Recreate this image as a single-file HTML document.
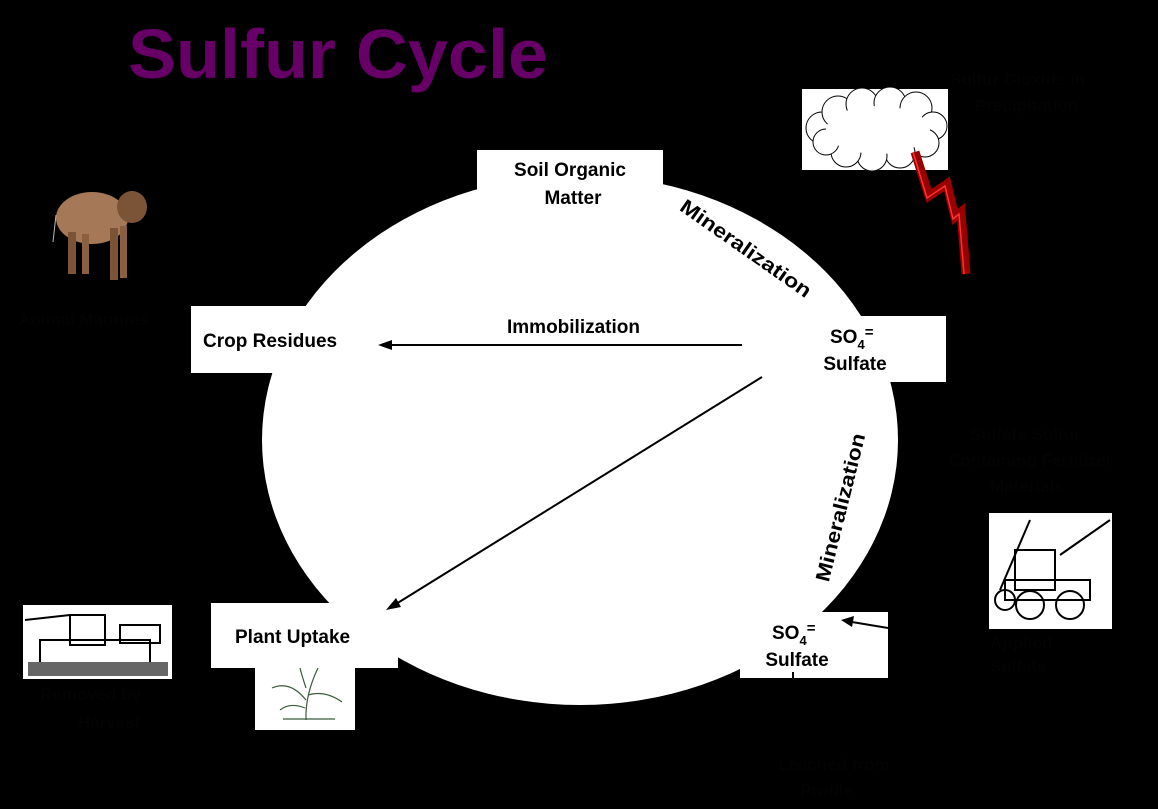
<!DOCTYPE html>
<html><head><meta charset="utf-8"><style>
html,body{margin:0;padding:0;background:#000;}
svg{display:block;}
text{font-family:"Liberation Sans",Arial,sans-serif;font-weight:bold;}
</style></head><body>
<svg width="1158" height="809" viewBox="0 0 1158 809" xmlns="http://www.w3.org/2000/svg">
<rect width="1158" height="809" fill="#000"/>
<text x="128" y="78" font-size="70" fill="#660066" textLength="420" lengthAdjust="spacingAndGlyphs">Sulfur Cycle</text>
<ellipse cx="580" cy="440" rx="318" ry="265" fill="#fff"/>
<!-- boxes -->
<rect x="477" y="150" width="186" height="62" fill="#fff"/>
<text x="570" y="176" font-size="19" text-anchor="middle" fill="#000">Soil Organic</text>
<text x="573" y="204" font-size="19" text-anchor="middle" fill="#000">Matter</text>
<rect x="191" y="306" width="189" height="67" fill="#fff"/>
<text x="203" y="347" font-size="19" fill="#000">Crop Residues</text>
<rect x="785" y="316" width="161" height="66" fill="#fff"/>
<text x="830" y="343" font-size="19" fill="#000">SO<tspan font-size="13" dy="6">4</tspan><tspan font-size="15" dy="-12">=</tspan></text>
<text x="855" y="370" font-size="19" text-anchor="middle" fill="#000">Sulfate</text>
<rect x="211" y="603" width="187" height="65" fill="#fff"/>
<text x="235" y="643" font-size="19" fill="#000">Plant Uptake</text>
<rect x="740" y="612" width="148" height="66" fill="#fff"/>
<text x="772" y="639" font-size="19" fill="#000">SO<tspan font-size="13" dy="6">4</tspan><tspan font-size="15" dy="-12">=</tspan></text>
<text x="797" y="666" font-size="19" text-anchor="middle" fill="#000">Sulfate</text>
<line x1="793" y1="672" x2="793" y2="685" stroke="#000" stroke-width="2"/>
<!-- labels -->
<text x="507" y="333" font-size="19" fill="#000">Immobilization</text>
<text transform="translate(742,254) rotate(35)" font-size="20" text-anchor="middle" fill="#000" textLength="155" lengthAdjust="spacingAndGlyphs">Mineralization</text>
<text transform="translate(847,509) rotate(-76)" font-size="20" text-anchor="middle" fill="#000" textLength="152" lengthAdjust="spacingAndGlyphs">Mineralization</text>
<!-- arrows -->
<line x1="742" y1="345" x2="390" y2="345" stroke="#000" stroke-width="2"/>
<polygon points="378,345 392,340 392,350" fill="#000"/>
<line x1="762" y1="377" x2="396" y2="604" stroke="#000" stroke-width="2"/>
<polygon points="386,610 396,598 401,607" fill="#000"/>
<line x1="888" y1="628" x2="852" y2="622" stroke="#000" stroke-width="2"/>
<polygon points="841,620 854,616 852,627" fill="#000"/>
<!-- cloud -->
<rect x="802" y="89" width="146" height="81" fill="#fff"/>
<g fill="#fff" stroke="#000" stroke-width="1">
<circle cx="822" cy="128" r="16"/><circle cx="838" cy="112" r="16"/><circle cx="862" cy="104" r="16"/><circle cx="890" cy="103" r="16"/><circle cx="916" cy="108" r="16"/><circle cx="933" cy="126" r="14"/><circle cx="925" cy="143" r="14"/><circle cx="900" cy="153" r="15"/><circle cx="872" cy="156" r="15"/><circle cx="846" cy="152" r="15"/><circle cx="826" cy="142" r="13"/>
</g>
<ellipse cx="878" cy="130" rx="52" ry="24" fill="#fff"/>
<polyline points="915,152 929,196 947,184 955,217 961,212 966,274" fill="none" stroke="#990000" stroke-width="9" stroke-linejoin="miter"/>
<polyline points="913,152 927,198 945,186 953,219 959,214 964,274" fill="none" stroke="#ff3030" stroke-width="1.5"/>
<!-- cow -->
<g>
<ellipse cx="92" cy="218" rx="36" ry="26" fill="#a57858"/>
<rect x="68" y="232" width="8" height="42" fill="#7b5438"/><rect x="82" y="234" width="7" height="40" fill="#8b6040"/>
<rect x="110" y="228" width="8" height="52" fill="#7b5438"/><rect x="120" y="226" width="7" height="52" fill="#8b6040"/>
<ellipse cx="132" cy="207" rx="15" ry="16" fill="#7b5438"/>
<line x1="56" y1="215" x2="53" y2="242" stroke="#bbb" stroke-width="1"/>
</g>
<!-- tractor -->
<rect x="989" y="513" width="123" height="116" fill="#fff"/>
<g stroke="#000" stroke-width="2" fill="none">
<line x1="1000" y1="590" x2="1030" y2="520"/><line x1="1060" y1="555" x2="1110" y2="520"/>
<rect x="1015" y="550" width="40" height="40"/><rect x="1005" y="580" width="85" height="20"/>
<circle cx="1030" cy="605" r="14"/><circle cx="1070" cy="605" r="14"/><circle cx="1005" cy="600" r="10"/>
</g>
<!-- combine -->
<rect x="23" y="605" width="149" height="74" fill="#fff"/>
<g stroke="#000" stroke-width="2" fill="none">
<rect x="40" y="640" width="110" height="25"/><rect x="70" y="615" width="35" height="30"/><line x1="25" y1="620" x2="70" y2="615"/>
<rect x="120" y="625" width="40" height="18"/>
</g>
<rect x="28" y="662" width="140" height="14" fill="#666"/>
<!-- plant -->
<rect x="255" y="668" width="100" height="62" fill="#fff"/>
<g stroke="#3a5a3a" stroke-width="1.2" fill="none">
<path d="M306 720 Q305 695 318 668"/><path d="M306 700 Q290 680 272 688"/><path d="M308 695 Q325 690 342 702"/><path d="M305 708 Q290 702 280 710"/><path d="M306 688 Q302 676 300 668"/>
<line x1="283" y1="719" x2="335" y2="719"/>
</g>
<!-- hidden dark labels -->
<g fill="#030303" font-size="17" font-weight="normal">
<text x="950" y="85">Sulfur Dioxide in</text><text x="975" y="111">Precipitation</text>
<text x="18" y="325">Animal Manures</text>
<text x="970" y="440">Sulfate Sulfur</text><text x="948" y="466">Containing Fertilizer</text><text x="990" y="492">Materials</text>
<text x="990" y="648">Applied</text><text x="990" y="672">Sulfate</text>
<text x="40" y="700">Removed by</text><text x="78" y="728">Harvest</text>
<text x="778" y="770">Leached from</text><text x="800" y="796">Profile</text>
</g>
</svg>
</body></html>
